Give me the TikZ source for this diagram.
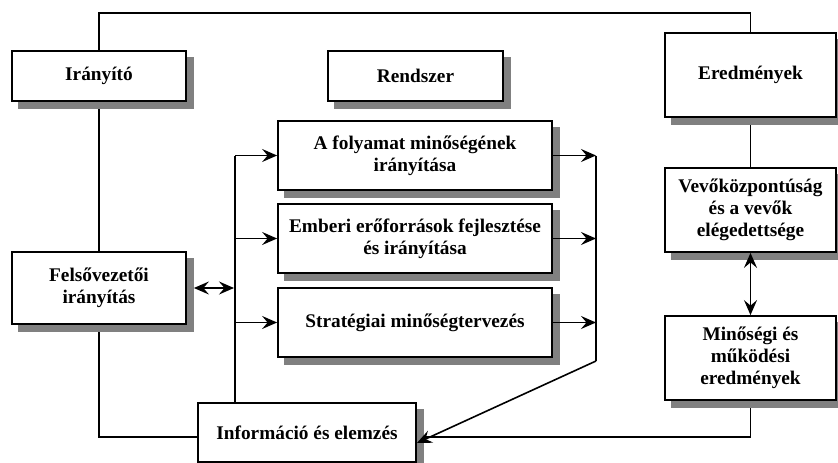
\documentclass[tikz,border=0pt]{standalone}
\usepackage{fontspec}
\setmainfont{Liberation Serif}
\usetikzlibrary{arrows.meta,backgrounds}

\pgfdeclarelayer{shadowlayer}
\pgfsetlayers{background,shadowlayer,main}

\tikzset{
  box/.style={draw, line width=1.8pt, fill=white, align=center, inner sep=2pt,
    font=\fontsize{19.3}{22}\selectfont\bfseries},
  link/.style={line width=1.6pt},
  tip/.style={Stealth[length=15pt,width=13pt,inset=5.5pt]},
  arr/.style={line width=1.6pt, -{Stealth[length=15pt,width=13pt,inset=5.5pt]}},
  darr/.style={line width=1.6pt, {Stealth[length=15pt,width=13pt,inset=5.5pt]}-{Stealth[length=15pt,width=13pt,inset=5.5pt]}}
}

\begin{document}
\begin{tikzpicture}[x=1pt,y=-1pt]
\useasboundingbox (0,0) rectangle (838,463);

% column headers
\node[box, minimum width=174pt, minimum height=50pt] (iranyito) at (99,76) {Irányító};
\node[box, minimum width=175pt, minimum height=50pt] (rendszer) at (415.5,76) {Rendszer};
\node[box, minimum width=171pt, minimum height=84pt] (eredmenyek) at (750.5,75) {Eredmények};

% system processes
\node[box, minimum width=274pt, minimum height=69pt] (folyamat) at (415,155.5) {A folyamat minőségének\\irányítása};
\node[box, minimum width=274pt, minimum height=69pt] (emberi) at (415,238.5) {Emberi erőforrások fejlesztése\\és irányítása};
\node[box, minimum width=274pt, minimum height=69pt] (strat) at (415,322.5) {Stratégiai minőségtervezés};

% leadership, information, results
\node[box, minimum width=174pt, minimum height=72pt] (felso) at (99,288) {Felsővezetői\\irányítás};
\node[box, minimum width=218pt, minimum height=59pt] (info) at (307,432.5) {Információ és elemzés};
\node[box, minimum width=171pt, minimum height=84pt] (vevo) at (750.5,210) {Vevőközpontúság\\és a vevők\\elégedettsége};
\node[box, minimum width=171pt, minimum height=84pt] (minoseg) at (750.5,358) {Minőségi és\\működési\\eredmények};

% grey drop shadows, offset down and to the right
\begin{pgfonlayer}{shadowlayer}
  \foreach \n in {iranyito,rendszer,eredmenyek,folyamat,emberi,strat,felso,info,vevo,minoseg}
    \fill[gray] ([shift={(7pt,-7pt)}]\n.south west) rectangle ([shift={(7pt,-7pt)}]\n.north east);
\end{pgfonlayer}

% routing points
\coordinate (top) at (0,13);
\coordinate (low) at (0,437);
\coordinate (lbus) at (235,0);
\coordinate (rbus) at (596,0);
\coordinate (rbend) at (596,361);

% plain connectors, kept behind the shadows
\begin{scope}[on background layer]
  \draw[link] (iranyito.north) -- (iranyito.north |- top) -| (eredmenyek.north);
  \draw[link] (iranyito.south) -- (felso.north);
  \draw[link] (felso.south) -- (felso.south |- low) -- (low -| info.west);
  \draw[link] (eredmenyek.south) -- (vevo.north);
  \draw[link] (minoseg.south) -- (minoseg.south |- low) -- (low -| info.east);
  \draw[link] (lbus |- info.north) -- (lbus |- folyamat.west);
  \draw[link] (rbus |- folyamat.east) -- (rbend);
\end{scope}

% arrows
\draw[arr] (lbus |- folyamat.west) -- (folyamat.west);
\draw[arr] (lbus |- emberi.west) -- (emberi.west);
\draw[arr] (lbus |- strat.west) -- (strat.west);
\draw[arr] (folyamat.east) -- (rbus |- folyamat.east);
\draw[arr] (emberi.east) -- (rbus |- emberi.east);
\draw[arr] (strat.east) -- (rbus |- strat.east);
\draw[arr] (rbend) -- ([yshift=-10.5pt]info.east);
\draw[darr] ([xshift=7pt]felso.east) -- ([xshift=-1pt]lbus |- felso.east);
\draw[darr] (vevo.south) -- (minoseg.north);
\end{tikzpicture}
\end{document}
